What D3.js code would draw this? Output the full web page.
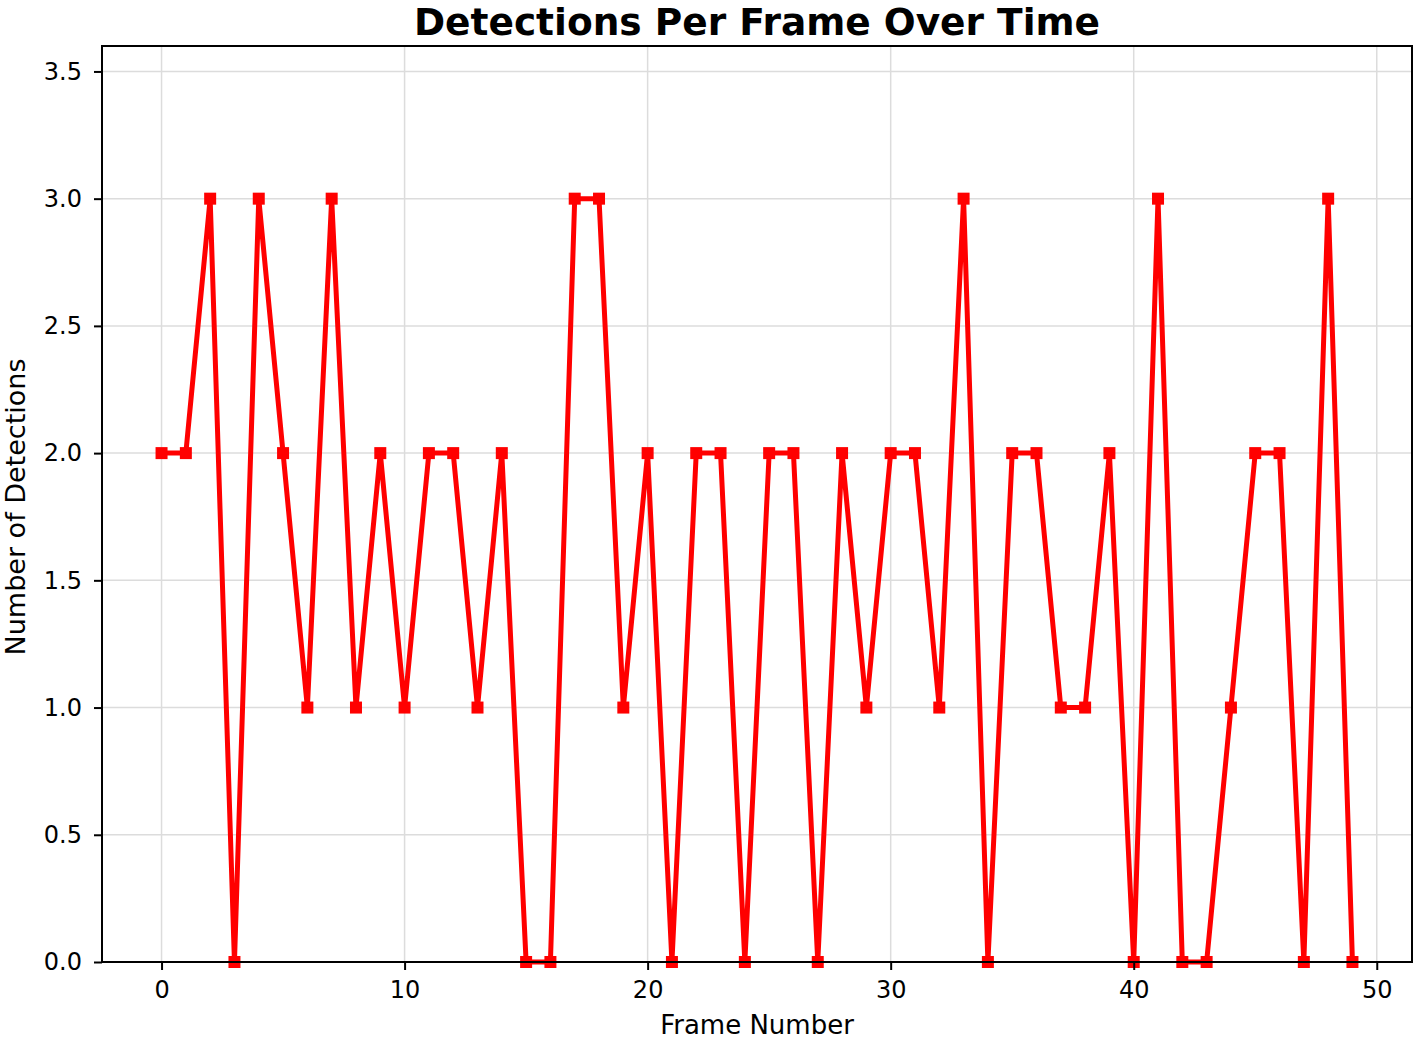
<!DOCTYPE html>
<html>
<head>
<meta charset="utf-8">
<script src="https://cdn.jsdelivr.net/npm/d3@7"></script>
<style>
  html, body { margin: 0; padding: 0; background: #fff; }
  svg { display: block; font-family: "DejaVu Sans", sans-serif; }
</style>
</head>
<body>
<svg id="chart" width="1417" height="1041"></svg>
<script>
const frames = d3.range(0, 50);
const detections = [2,2,3,0,3,2,1,3,1,2,1,2,2,1,2,0,0,3,3,1,2,0,2,2,0,2,2,0,2,1,2,2,1,3,0,2,2,1,1,2,0,3,0,0,1,2,2,0,3,0];
const xTicks = [0,10,20,30,40,50];
const yTicks = [0,0.5,1.0,1.5,2.0,2.5,3.0,3.5];
const titleText = "Detections Per Frame Over Time";
const xLabel = "Frame Number";
const yLabel = "Number of Detections";

const svg = d3.select("#chart");
const m = {left: 102, right: 1412, top: 46, bottom: 962};

const x = d3.scaleLinear().domain([-2.45, 51.45]).range([m.left, m.right]);
const y = d3.scaleLinear().domain([0, 3.6]).range([m.bottom, m.top]);

// grid
const grid = svg.append("g");
grid.selectAll("line.gx").data(xTicks).join("line")
  .attr("x1", d => x(d)).attr("x2", d => x(d))
  .attr("y1", m.top).attr("y2", m.bottom)
  .attr("stroke", "#dcdcdc").attr("stroke-width", 1.5);
grid.selectAll("line.gy").data(yTicks).join("line")
  .attr("x1", m.left).attr("x2", m.right)
  .attr("y1", d => y(d)).attr("y2", d => y(d))
  .attr("stroke", "#dcdcdc").attr("stroke-width", 1.5);

// line
const data = frames.map((f, i) => ({f, v: detections[i]}));
const line = d3.line().x(d => x(d.f)).y(d => y(d.v));
svg.append("path").datum(data)
  .attr("d", line)
  .attr("fill", "none")
  .attr("stroke", "#ff0000")
  .attr("stroke-width", 5)
  .attr("stroke-linejoin", "round");

// markers
const ms = 12;
svg.append("g").selectAll("rect").data(data).join("rect")
  .attr("x", d => x(d.f) - ms/2)
  .attr("y", d => y(d.v) - ms/2)
  .attr("width", ms).attr("height", ms)
  .attr("fill", "#ff0000");

// axes
const xAxis = d3.axisBottom(x).tickValues(xTicks).tickFormat(d3.format("d")).tickSizeOuter(0).tickSize(8).tickPadding(11);
const yAxis = d3.axisLeft(y).tickValues(yTicks).tickFormat(d3.format(".1f")).tickSizeOuter(0).tickSize(8).tickPadding(12);

const gx = svg.append("g").attr("transform", `translate(0,${m.bottom})`).call(xAxis);
const gy = svg.append("g").attr("transform", `translate(${m.left},0)`).call(yAxis);
[gx, gy].forEach(g => {
  g.select(".domain").remove();
  g.selectAll(".tick line").attr("stroke", "#000").attr("stroke-width", 2);
  g.selectAll(".tick text").attr("fill", "#000").style("font-size", "24px").style("font-family", "DejaVu Sans");
});

// frame (spines)
svg.append("rect")
  .attr("x", m.left).attr("y", m.top)
  .attr("width", m.right - m.left).attr("height", m.bottom - m.top)
  .attr("fill", "none").attr("stroke", "#000").attr("stroke-width", 2);

// title
svg.append("text")
  .attr("x", (m.left + m.right) / 2).attr("y", 35)
  .attr("text-anchor", "middle")
  .style("font-family", "DejaVu Sans").style("font-weight", "bold").style("font-size", "37.5px")
  .attr("fill", "#000")
  .text(titleText);

// axis labels
svg.append("text")
  .attr("x", (m.left + m.right) / 2).attr("y", 1034)
  .attr("text-anchor", "middle")
  .style("font-family", "DejaVu Sans").style("font-size", "26px")
  .attr("fill", "#000")
  .text(xLabel);

svg.append("text")
  .attr("transform", `translate(25,${(m.top + m.bottom) / 2 + 3}) rotate(-90)`)
  .attr("text-anchor", "middle")
  .style("font-family", "DejaVu Sans").style("font-size", "27px")
  .attr("fill", "#000")
  .text(yLabel);
</script>
</body>
</html>
